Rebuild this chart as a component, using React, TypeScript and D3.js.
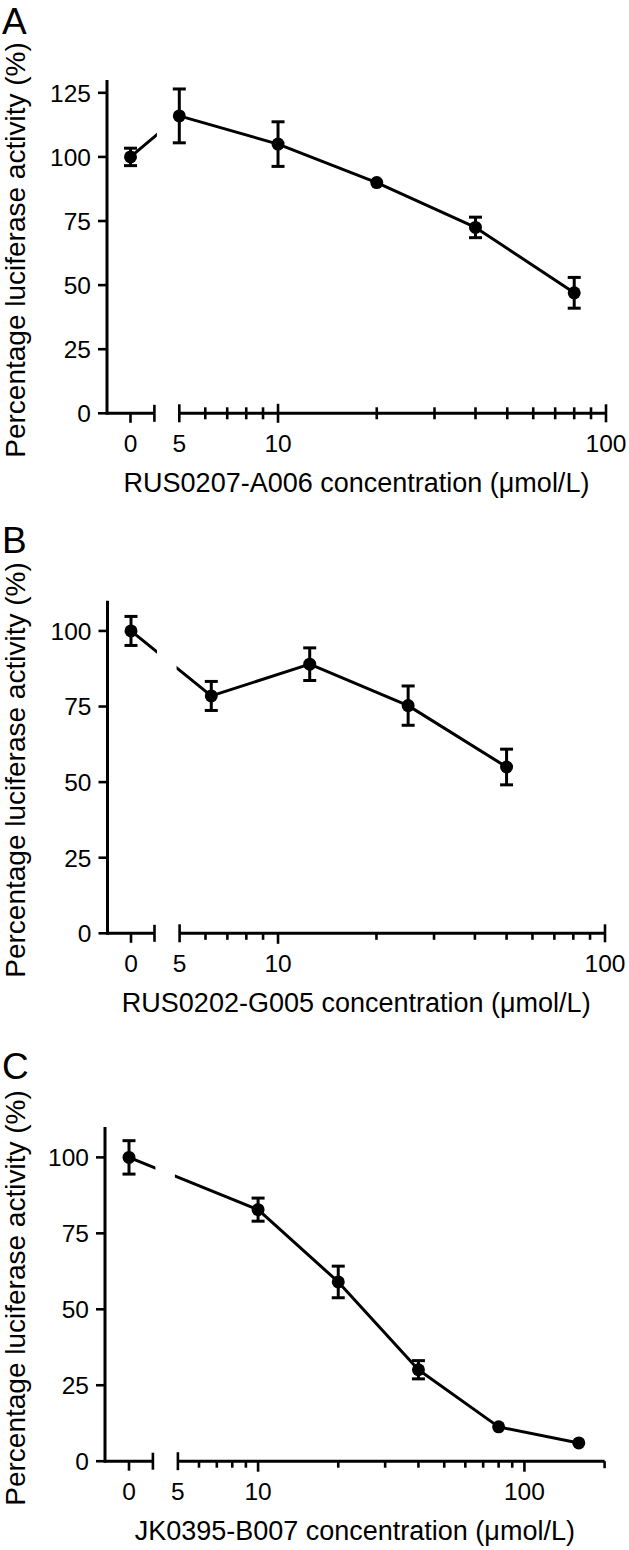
import React from 'react';
import * as d3 from 'd3';

// ---------- data ----------
const concA = [0, 5, 10, 20, 40, 80];
const meanA = [100, 116, 105, 90, 72.5, 47];
const errA = [3.4, 10.5, 8.7, 1.0, 4.0, 6.0];

const concB = [0, 6.25, 12.5, 25, 50];
const meanB = [100, 78.5, 89, 75.3, 55];
const errB = [4.8, 4.8, 5.4, 6.5, 5.9];

const concC = [0, 10, 20, 40, 80, 160];
const meanC = [100, 82.8, 59, 30.1, 11.3, 6];
const errC = [5.5, 3.8, 5.2, 3.0, 1.0, 0.8];

const yTicksA = [0, 25, 50, 75, 100, 125];
const yTicksBC = [0, 25, 50, 75, 100];
const xLabelsAB = [0, 5, 10, 100];
const xLabelsC = [0, 5, 10, 100];
const minorTicks = [6, 7, 8, 9, 20, 30, 40, 50, 60, 70, 80, 90];
const majorAB = [10];
const majorC = [10, 100];

const yTitle = 'Percentage luciferase activity (%)';
const titleA = 'RUS0207-A006 concentration (\u03bcmol/L)';
const titleB = 'RUS0202-G005 concentration (\u03bcmol/L)';
const titleC = 'JK0395-B007 concentration (\u03bcmol/L)';

const FONT = '"Liberation Sans", Arial, Helvetica, sans-serif';

type Cfg = {
  id: string;
  letter: string;
  letterY: number;
  conc: number[];
  mean: number[];
  err: number[];
  yTicks: number[];
  yMax: number;
  y0: number;
  yTop: number;
  axisX: number;
  zeroX: number;
  leftEnd: number;
  logDomain: [number, number];
  logStart: number;
  logEnd: number;
  major: number[];
  xLabels: number[];
  tickMode: 'cross' | 'down';
  title: string;
  yTitleY: number;
};

const panels: Cfg[] = [
  {
    id: 'A', letter: 'A', letterY: 34,
    conc: concA, mean: meanA, err: errA,
    yTicks: yTicksA, yMax: 130, y0: 413.3, yTop: 80,
    axisX: 107, zeroX: 130.5, leftEnd: 154.4,
    logDomain: [5, 100], logStart: 179.3, logEnd: 606,
    major: majorAB, xLabels: xLabelsAB, tickMode: 'cross',
    title: titleA, yTitleY: 250,
  },
  {
    id: 'B', letter: 'B', letterY: 553,
    conc: concB, mean: meanB, err: errB,
    yTicks: yTicksBC, yMax: 110, y0: 933.3, yTop: 600.7,
    axisX: 107.5, zeroX: 131, leftEnd: 154.5,
    logDomain: [5, 100], logStart: 179.6, logEnd: 605,
    major: majorAB, xLabels: xLabelsAB, tickMode: 'down',
    title: titleB, yTitleY: 770,
  },
  {
    id: 'C', letter: 'C', letterY: 1079,
    conc: concC, mean: meanC, err: errC,
    yTicks: yTicksBC, yMax: 110, y0: 1461.2, yTop: 1127,
    axisX: 105, zeroX: 129, leftEnd: 152.9,
    logDomain: [5, 200], logStart: 177.9, logEnd: 604.6,
    major: majorC, xLabels: xLabelsC, tickMode: 'down',
    title: titleC, yTitleY: 1298,
  },
];

const SW = 3;
const R = 6.5;
const CAP = 6.5;
const TICKFS = 24.5;
const TITLEFS = 27;

function Panel({ p }: { p: Cfg }) {
  const y = d3.scaleLinear().domain([0, p.yMax]).range([p.y0, p.yTop]);
  const xl = d3.scaleLog().domain(p.logDomain).range([p.logStart, p.logEnd]);
  const xf = (c: number) => (c === 0 ? p.zeroX : xl(c));
  const pts: [number, number][] = p.conc.map((c, i) => [xf(c), y(p.mean[i])]);
  const path = d3.line()(pts) || '';
  const gapL = p.leftEnd + 2.5;
  const gapR = p.logStart - 3;
  const ay = y(0);
  const clipId = 'clip' + p.id;

  const tick = (x: number, up: number, down: number, key: string) => (
    <line key={key} x1={x} x2={x} y1={ay - up} y2={ay + down} stroke="#000" strokeWidth={2.6} />
  );

  const minorUp = p.tickMode === 'cross' ? 6 : 0;
  const minorDown = p.tickMode === 'cross' ? 6 : 6.5;
  const majorUp = p.tickMode === 'cross' ? 9.5 : 0;
  const majorDown = p.tickMode === 'cross' ? 9.5 : 10.5;

  const minors = minorTicks.filter((v) => v > p.logDomain[0] && v < p.logDomain[1] && !p.major.includes(v));
  const xTitleX = (p.axisX + p.logEnd) / 2;

  return (
    <g>
      <defs>
        <clipPath id={clipId}>
          <rect x={0} y={p.yTop - 50} width={gapL} height={p.y0 - p.yTop + 60} />
          <rect x={gapR} y={p.yTop - 50} width={700} height={p.y0 - p.yTop + 60} />
        </clipPath>
      </defs>
      {/* panel letter */}
      <text x={2} y={p.letterY} fontSize={37} fontFamily={FONT}>{p.letter}</text>
      {/* y title */}
      <text
        transform={`translate(25,${p.yTitleY}) rotate(-90)`}
        textAnchor="middle"
        fontSize={28}
        fontFamily={FONT}
      >
        {yTitle}
      </text>
      {/* y axis */}
      <line x1={p.axisX} x2={p.axisX} y1={y(p.yMax)} y2={ay + SW / 2} stroke="#000" strokeWidth={SW} />
      {p.yTicks.map((t) => (
        <g key={'yt' + t}>
          <line x1={p.axisX - 9} x2={p.axisX} y1={y(t)} y2={y(t)} stroke="#000" strokeWidth={2.6} />
          <text x={p.axisX - 16} y={y(t) + 8.8} textAnchor="end" fontSize={TICKFS} fontFamily={FONT}>{t}</text>
        </g>
      ))}
      {/* x axis left segment */}
      <line x1={p.axisX} x2={p.leftEnd} y1={ay} y2={ay} stroke="#000" strokeWidth={SW} />
      {tick(p.zeroX, 0, 9.5, 'z')}
      {tick(p.leftEnd, 8.5, 8.5, 'le')}
      {/* x axis right segment */}
      <line x1={p.logStart} x2={p.logEnd} y1={ay} y2={ay} stroke="#000" strokeWidth={SW} />
      {tick(p.logStart, 9, 9, 'ls')}
      {p.tickMode === 'cross' ? tick(p.logEnd, 9, 9, 're') : tick(p.logEnd, p.logDomain[1] === 100 ? 9 : 0, p.logDomain[1] === 100 ? 9 : 7, 're')}
      {minors.map((v) => tick(xl(v), minorUp, minorDown, 'mn' + v))}
      {p.major.map((v) => tick(xl(v), majorUp, majorDown, 'mj' + v))}
      {p.xLabels.map((v) => (
        <text key={'xl' + v} x={xf(v)} y={ay + 38.5} textAnchor="middle" fontSize={TICKFS} fontFamily={FONT}>{v}</text>
      ))}
      <text x={xTitleX} y={ay + 79} textAnchor="middle" fontSize={TITLEFS} fontFamily={FONT}>{p.title}</text>
      {/* data line */}
      <path d={path} fill="none" stroke="#000" strokeWidth={SW} clipPath={`url(#${clipId})`} strokeLinejoin="round" />
      {/* error bars */}
      {p.conc.map((c, i) => {
        const cx = xf(c);
        const yt = y(p.mean[i] + p.err[i]);
        const yb = y(p.mean[i] - p.err[i]);
        if ((yb - yt) / 2 <= R + 1) return null;
        return (
          <g key={'e' + i} stroke="#000" strokeWidth={SW}>
            <line x1={cx} x2={cx} y1={yt} y2={yb} />
            <line x1={cx - CAP} x2={cx + CAP} y1={yt} y2={yt} />
            <line x1={cx - CAP} x2={cx + CAP} y1={yb} y2={yb} />
          </g>
        );
      })}
      {pts.map(([cx, cy], i) => (
        <circle key={'m' + i} cx={cx} cy={cy} r={R} fill="#000" />
      ))}
    </g>
  );
}

export default function App() {
  return (
    <svg
      width={629}
      height={1550}
      viewBox="0 0 629 1550"
      style={{ position: 'absolute', left: 0, top: 0, background: '#fff' }}
    >
      <rect x={0} y={0} width={629} height={1550} fill="#fff" />
      {panels.map((p) => (
        <Panel key={p.id} p={p} />
      ))}
    </svg>
  );
}
